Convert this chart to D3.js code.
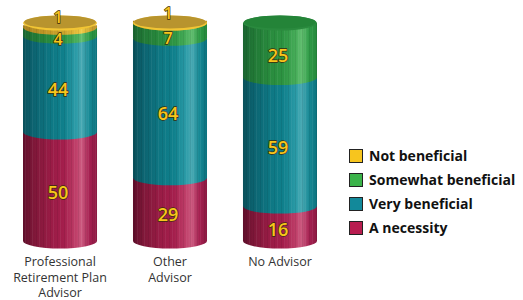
<!DOCTYPE html>
<html>
<head>
<meta charset="utf-8">
<script src="https://cdn.jsdelivr.net/npm/d3@7"></script>
<style>
  body { margin: 0; background: #fff; }
  svg { display: block; }
</style>
</head>
<body>
<svg id="chart"></svg>
<script>
// data
let categories = ["Professional Retirement Plan Advisor", "Other Advisor", "No Advisor"];
let categoryLines = [["Professional", "Retirement Plan", "Advisor"], ["Other", "Advisor"], ["No Advisor"]];
let seriesNames = ["A necessity", "Very beneficial", "Somewhat beneficial", "Not beneficial"];
let necessity = [50, 29, 16];
let veryBeneficial = [44, 64, 59];
let somewhatBeneficial = [4, 7, 25];
let notBeneficial = [1, 1, 0];
let legendOrder = ["Not beneficial", "Somewhat beneficial", "Very beneficial", "A necessity"];

let width = 523, height = 300;
let ry = 7.5;

let palette = {
    "A necessity": {key: "red", swatch: "#b81d50",
        stops: ["#5e0e2a", "#7e1738", "#9a1c46", "#a41e4c", "#c0406a", "#cc5a80", "#a42050", "#8c1a42"]},
    "Very beneficial": {key: "teal", swatch: "#12899a",
        stops: ["#09505a", "#0c6370", "#0e7884", "#0f808c", "#2c9ca8", "#4aaab4", "#168894", "#0c727e"]},
    "Somewhat beneficial": {key: "green", swatch: "#3bb34a",
        stops: ["#1a6430", "#217836", "#298c3e", "#2d9442", "#48ae5a", "#62be70", "#2e9a46", "#25883c"]},
    "Not beneficial": {key: "gold", swatch: "#f7c51e",
        stops: ["#a6801c", "#b48c22", "#c49c28", "#cca42c", "#e2bc3a", "#f0cc48", "#d0a830", "#bc9226"]}
};
let stopOffsets = ["0%", "14%", "38%", "55%", "72%", "79%", "90%", "100%"];

let svg = d3.select("#chart")
    .attr("width", width)
    .attr("height", height);

let defs = svg.append("defs");
for (let name of seriesNames) {
    let p = palette[name];
    let grad = defs.append("linearGradient")
        .attr("id", "grad-" + p.key)
        .attr("x1", "0%").attr("x2", "100%")
        .attr("y1", "0%").attr("y2", "0%");
    p.stops.forEach(function (c, i) {
        grad.append("stop").attr("offset", stopOffsets[i]).attr("stop-color", c);
    });
}
// thin vertical streaks to mimic the rendered texture
let pat = defs.append("pattern")
    .attr("id", "streaks")
    .attr("patternUnits", "userSpaceOnUse")
    .attr("width", 7).attr("height", 10);
pat.append("rect").attr("x", 1).attr("width", 1).attr("height", 10)
    .attr("fill", "#000").attr("opacity", 0.07);
pat.append("rect").attr("x", 4).attr("width", 1).attr("height", 10)
    .attr("fill", "#fff").attr("opacity", 0.06);

let x = d3.scaleBand()
    .domain(categories)
    .range([23, 317])
    .paddingInner(0.327)
    .paddingOuter(0);

let y = d3.scaleLinear()
    .domain([0, 100])
    .range([241, 23]);

let table = categories.map(function (c, i) {
    return {
        category: c,
        "A necessity": necessity[i],
        "Very beneficial": veryBeneficial[i],
        "Somewhat beneficial": somewhatBeneficial[i],
        "Not beneficial": notBeneficial[i]
    };
});
let stacked = d3.stack().keys(seriesNames)(table);

let bars = svg.append("g");
let labels = svg.append("g");

categories.forEach(function (cat, ci) {
    let bx = x(cat);
    let bw = x.bandwidth();
    let cx = bx + bw / 2;
    let g = bars.append("g");
    let topName = null;

    stacked.forEach(function (layer) {
        let d = layer[ci];
        let v = d[1] - d[0];
        if (v <= 0) return;
        topName = layer.key;
        let p = palette[layer.key];
        let y0 = y(d[0]), y1 = y(d[1]);
        // side of the cylinder segment, rounded at the bottom
        let shape = "M" + bx + "," + y1 + "L" + bx + "," + y0 +
            "A" + (bw / 2) + "," + ry + " 0 0 0 " + (bx + bw) + "," + y0 +
            "L" + (bx + bw) + "," + y1 + "Z";
        g.append("path").attr("d", shape).attr("fill", "url(#grad-" + p.key + ")");
        g.append("path").attr("d", shape).attr("fill", "url(#streaks)");
    });

    // top face of the column
    let topY = y(100);
    g.append("ellipse")
        .attr("cx", cx).attr("cy", topY)
        .attr("rx", bw / 2).attr("ry", ry)
        .attr("fill", topName === "Not beneficial" ? "#f2c534" : "#2a8a3e");
    g.append("ellipse")
        .attr("cx", cx).attr("cy", topY - 1)
        .attr("rx", bw / 2 - 1).attr("ry", ry - 1)
        .attr("fill", topName === "Not beneficial" ? "#b8942e" : "#248438");

    // value labels
    stacked.forEach(function (layer) {
        let d = layer[ci];
        let v = d[1] - d[0];
        if (v <= 0) return;
        let ly = (y(d[0]) + y(d[1])) / 2 + 5;
        if (v < 10) ly = (y(d[0]) + y(d[1])) / 2 + 7.5;
        if (v < 3) ly = y(d[1]) - 8;
        labels.append("text")
            .attr("x", cx - 2)
            .attr("y", ly)
            .attr("text-anchor", "middle")
            .attr("dominant-baseline", "central")
            .attr("font-family", "'Open Sans', sans-serif")
            .attr("font-weight", 600)
            .attr("font-size", v < 10 ? 16 : 18)
            .attr("fill", "#f7c61c")
            .attr("stroke", "#3a2c08")
            .attr("stroke-width", 1.3)
            .attr("paint-order", "stroke")
            .text(v);
    });

    // category label
    let t = svg.append("text")
        .attr("text-anchor", "middle")
        .attr("font-family", "'Open Sans', sans-serif")
        .attr("font-size", 12.5)
        .attr("fill", "#333");
    categoryLines[ci].forEach(function (line, li) {
        t.append("tspan").attr("x", cx).attr("y", 266 + li * 15.5).text(line);
    });
});

// legend
let legend = svg.append("g").attr("transform", "translate(349,149)");
legendOrder.forEach(function (name, i) {
    let row = legend.append("g").attr("transform", "translate(0," + (i * 24) + ")");
    row.append("rect")
        .attr("x", 0.5).attr("y", 0.5)
        .attr("width", 13).attr("height", 13)
        .attr("fill", palette[name].swatch)
        .attr("stroke", "#222").attr("stroke-width", 1);
    row.append("text")
        .attr("x", 20).attr("y", 12)
        .attr("font-family", "'Open Sans', sans-serif")
        .attr("font-weight", 700)
        .attr("font-size", 14)
        .attr("fill", "#111")
        .text(name);
});
</script>
</body>
</html>
